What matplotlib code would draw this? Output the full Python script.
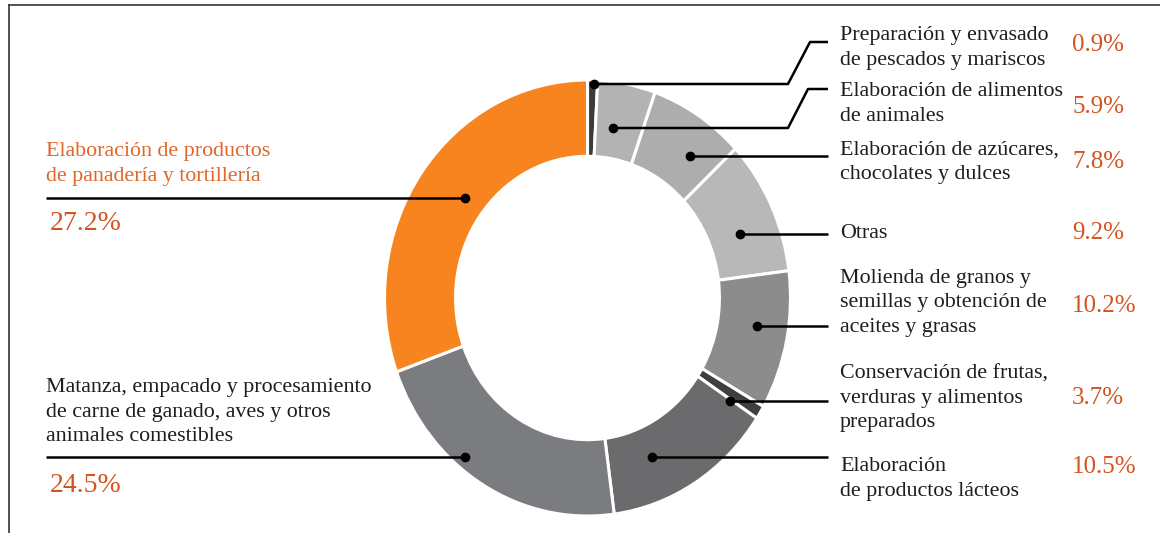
import numpy as np
import matplotlib
matplotlib.use("Agg")
import matplotlib.pyplot as plt

plt.rcParams['font.family'] = ['Liberation Serif', 'DejaVu Serif']

# ---------------- data (clockwise from 12 o'clock) ----------------
categories = [
    "Preparación y envasado\nde pescados y mariscos",
    "Elaboración de alimentos\nde animales",
    "Elaboración de azúcares,\nchocolates y dulces",
    "Otras",
    "Molienda de granos y\nsemillas y obtención de\naceites y grasas",
    "Conservación de frutas,\nverduras y alimentos\npreparados",
    "Elaboración\nde productos lácteos",
    "Matanza, empacado y procesamiento\nde carne de ganado, aves y otros\nanimales comestibles",
    "Elaboración de productos\nde panadería y tortillería",
]
# percentages printed on the chart
pct_labels = [0.9, 5.9, 7.8, 9.2, 10.2, 3.7, 10.5, 24.5, 27.2]
# size of each ring segment as drawn in the original graphic
ring_share = [0.8, 4.6, 7.6, 10.0, 10.3, 1.0, 13.6, 21.6, 30.5]

colors = ['#3b3b3b', '#b3b3b3', '#adadad', '#b8b8b8', '#8c8c8c',
          '#3f3f3f', '#6b6b6d', '#7b7c80', '#f7841f']

# ---------------- layout (pixels) ----------------
W, H = 1160, 533
# leader paths: dot first, label end last
leaders = [
    [(594, 84), (788, 84), (810, 42), (828, 42)],
    [(613, 128), (788, 128), (808, 89), (828, 89)],
    [(690, 156), (828, 156)],
    [(740, 234), (828, 234)],
    [(757, 326), (828, 326)],
    [(730, 401), (828, 401)],
    [(652, 457), (828, 457)],
    [(465, 457), (46, 457)],
    [(465, 198), (46, 198)],
]
label_pos = [(840, 48), (840, 104), (840, 162), (840, 233), (840, 303),
             (840, 398), (840, 479), (46, 412), (46, 164)]
pct_pos = [(1072, 45), (1072, 107), (1072, 162), (1072, 233), (1072, 306),
           (1072, 398), (1072, 467), (50, 486), (50, 223)]

fig = plt.figure(figsize=(W / 100, H / 100), dpi=100)
fig.patch.set_facecolor('white')

# ---------------- donut ----------------
cx, cy, rx, ry = 587.5, 298, 203, 218
axp = fig.add_axes([(cx - rx) / W, (H - cy - ry) / H, 2 * rx / W, 2 * ry / H])
axp.pie(ring_share, colors=colors, startangle=90, counterclock=False,
        radius=1.0,
        wedgeprops=dict(width=0.35, edgecolor='white', linewidth=2.2))
axp.set_aspect('auto')
axp.set_xlim(-1, 1)
axp.set_ylim(-1, 1)
axp.axis('off')

# ---------------- overlay for text and leaders ----------------
ax = fig.add_axes([0, 0, 1, 1], zorder=5)
ax.set_xlim(0, W)
ax.set_ylim(H, 0)
ax.axis('off')
ax.patch.set_alpha(0)

# frame lines
ax.plot([9, W], [5, 5], color='#333333', lw=1.2)
ax.plot([9, 9], [5, H], color='#333333', lw=1.2)

label_col = '#1e1e1e'
pct_col = '#d4531f'
for i, cat in enumerate(categories):
    path = np.array(leaders[i])
    ax.plot(path[:, 0], path[:, 1], color='black', lw=1.8,
            solid_capstyle='butt')
    ax.plot(path[0, 0], path[0, 1], 'o', color='black', ms=6)
    tcol = '#e0662a' if i == len(categories) - 1 else label_col
    ax.text(label_pos[i][0], label_pos[i][1], cat, ha='left', va='center',
            fontsize=15.8, color=tcol, linespacing=1.38)
    big = i >= 7
    ax.text(pct_pos[i][0], pct_pos[i][1], f"{pct_labels[i]}%", ha='left',
            va='center', fontsize=20 if big else 18, color=pct_col)

fig.savefig('out.png', dpi=100, facecolor='white')
